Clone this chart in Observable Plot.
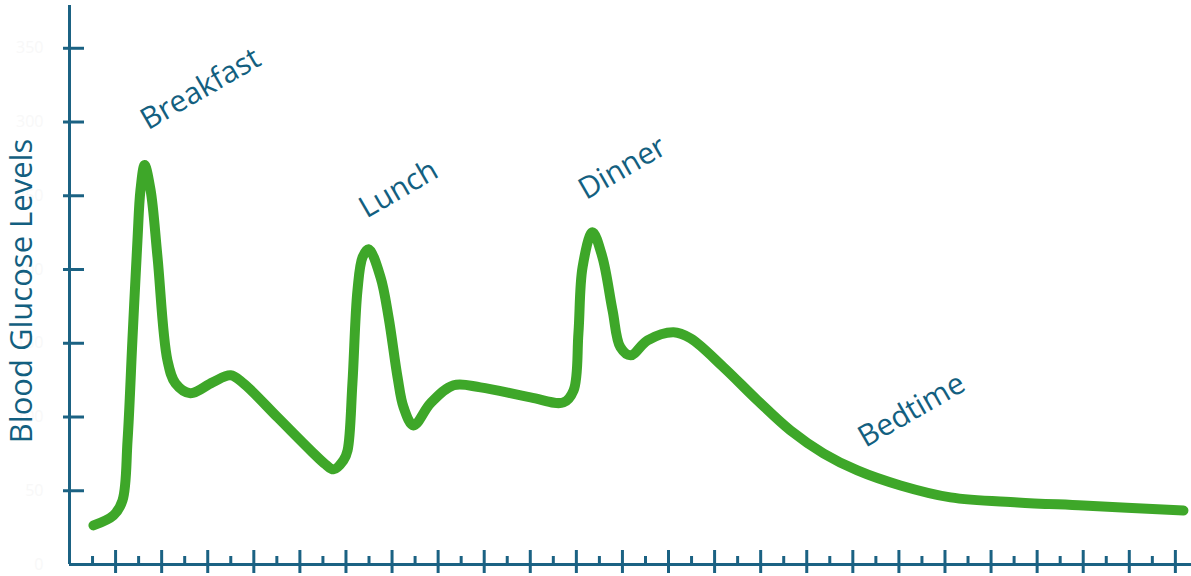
<!DOCTYPE html>
<html>
<head>
<meta charset="utf-8">
<script src="https://cdn.jsdelivr.net/npm/d3@7"></script>
<script src="https://cdn.jsdelivr.net/npm/@observablehq/plot@0.6"></script>
<style>
  html, body { margin: 0; padding: 0; background: #ffffff; }
  #chart svg { display: block; }
</style>
</head>
<body>
<div id="chart"></div>
<script>
// Time along the day (tick units) and blood glucose reading (arbitrary units)
const timeX = [1.04, 1.91, 2.30, 2.52, 2.73, 2.95, 3.08, 3.26, 3.52, 3.82, 4.25, 4.60, 5.25, 6.21, 6.99, 7.55, 9.03, 10.46, 11.11, 11.46, 11.89, 12.07, 12.28, 12.50, 12.72, 12.98, 13.50, 13.85, 14.24, 14.50, 14.93, 15.67, 16.67, 17.84, 20.01, 21.44, 21.88, 22.09, 22.27, 22.70, 23.13, 23.57, 23.91, 24.35, 25.09, 26.22, 26.95, 28.39, 29.86, 31.29, 32.73, 34.20, 36.07, 38.24, 41.15, 44.01, 48.35];
const glucose = [26.5, 33.3, 43.4, 84.2, 152.0, 219.9, 253.8, 270.8, 253.8, 208.4, 138.5, 122.8, 116.1, 123.5, 128.3, 122.8, 99.8, 77.4, 67.9, 64.5, 70.6, 77.4, 122.8, 186.0, 208.4, 213.8, 194.8, 167.6, 126.9, 106.6, 94.3, 109.3, 121.5, 120.1, 113.3, 109.9, 118.1, 156.8, 201.6, 225.3, 208.4, 172.4, 147.3, 141.8, 152.0, 157.5, 153.4, 133.7, 111.3, 90.9, 75.3, 63.8, 53.6, 45.5, 42.1, 40.0, 36.6];

// Meal annotations
const mealLabels = ["Breakfast", "Lunch", "Dinner", "Bedtime"];
const mealX = [5.69, 14.28, 24.0, 36.55];
const mealY = [322.4, 254.5, 268.8, 104.5];

// Axis ticks
const yTicks = [50, 100, 150, 200, 250, 300, 350];
const yTickLabels = [0, 50, 100, 150, 200, 250, 300, 350];
const xMajorTicks = d3.range(2, 49, 2);
const xMinorTicks = d3.range(1, 48, 2);
const yTitle = "Blood Glucose Levels";

const series = timeX.map((x, i) => ({x, y: glucose[i]}));
const meals = mealLabels.map((label, i) => ({label, x: mealX[i], y: mealY[i]}));

const axisColor = "#1b6283";
const textColor = "#135f80";
const lineColor = "#3ea729";

const chart = Plot.plot({
  width: 1191,
  height: 576,
  marginLeft: 69,
  marginRight: 0,
  marginTop: 5,
  marginBottom: 12,
  style: {background: "#ffffff", overflow: "visible"},
  x: {domain: [0, 48.7]},
  y: {domain: [0, 379]},
  marks: [
    // faint tick labels (nearly invisible in the reference)
    Plot.axisY({ticks: yTickLabels, tickSize: 0, tickPadding: 26, fill: "#f8f8f8", fontSize: 16, fontFamily: "Open Sans", label: null}),
    // y ticks crossing the axis
    Plot.axisY({ticks: yTicks, tickSize: 6, stroke: axisColor, strokeWidth: 3, tickFormat: () => "", label: null}),
    Plot.axisY({ticks: yTicks, tickSize: -15, stroke: axisColor, strokeWidth: 3, tickFormat: () => "", label: null}),
    // x ticks
    Plot.axisX({ticks: xMajorTicks, tickSize: 9, stroke: axisColor, strokeWidth: 3, tickFormat: () => "", label: null}),
    Plot.axisX({ticks: xMajorTicks, tickSize: -14, stroke: axisColor, strokeWidth: 3, tickFormat: () => "", label: null}),
    Plot.axisX({ticks: xMinorTicks, tickSize: -8, stroke: axisColor, strokeWidth: 3, tickFormat: () => "", label: null}),
    // axis lines
    Plot.ruleX([0], {stroke: axisColor, strokeWidth: 3}),
    Plot.ruleY([0], {stroke: axisColor, strokeWidth: 3}),
    // glucose curve
    Plot.line(series, {x: "x", y: "y", curve: "catmull-rom", stroke: lineColor, strokeWidth: 10, strokeLinecap: "round", strokeLinejoin: "round"}),
    // annotations
    Plot.text(meals, {x: "x", y: "y", text: "label", rotate: -30, fontSize: 30, fill: textColor, fontFamily: "Open Sans", textAnchor: "middle", lineAnchor: "middle"}),
    // y title
    Plot.text([yTitle], {frameAnchor: "left", dx: -47, dy: 6, rotate: -90, fontSize: 31, fill: textColor, fontFamily: "Open Sans", textAnchor: "middle", lineAnchor: "middle"})
  ]
});

document.getElementById("chart").appendChild(chart);
</script>
</body>
</html>
